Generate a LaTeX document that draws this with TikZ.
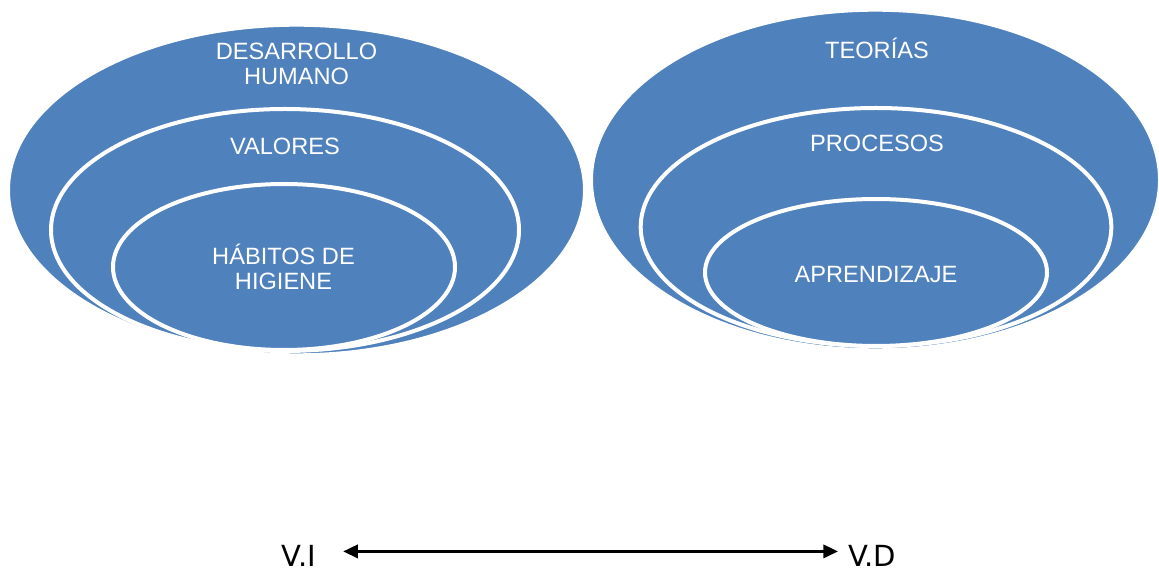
\documentclass[tikz,border=0pt]{standalone}
\usepackage{fontspec}
\setmainfont{Liberation Sans}
\newfontfamily\varfont{DejaVu Sans}
\usetikzlibrary{arrows.meta}
\definecolor{vennblue}{RGB}{79,129,189}
\begin{document}
\begin{tikzpicture}[x=0.75pt,y=-0.75pt,
  ring/.style={fill=vennblue, draw=white, line width=3pt},
  lbl/.style={text=white, font=\fontsize{17.7pt}{18.75pt}\selectfont, align=center, inner sep=0pt, anchor=base},
  vlbl/.style={text=black, font=\varfont\fontsize{21.8pt}{26pt}\selectfont, inner sep=0pt, anchor=base},
  arr/.style={{Triangle[length=11pt,width=10pt]}-{Triangle[length=11pt,width=10pt]}, line width=1.9pt, black}]
\useasboundingbox (0,0) rectangle (1159,573);
% left stacked venn
\draw[ring] (296.5,190) ellipse [x radius=288.5, y radius=165.3];
\draw[ring] (285,230) ellipse [x radius=234, y radius=121];
\draw[ring] (284,267) ellipse [x radius=171, y radius=83];
% right stacked venn
\draw[ring] (875.5,180) ellipse [x radius=284.5, y radius=170.3];
\draw[ring] (876,227) ellipse [x radius=235.3, y radius=119];
\draw[ring] (876,272.5) ellipse [x radius=171, y radius=73.5];
% labels
\node[lbl] (dh) at (296.5,85) {DESARROLLO\\HUMANO};
\node[lbl] (val) at (285,155) {VALORES};
\node[lbl] (hab) at (283.5,290) {HÁBITOS DE\\HIGIENE};
\node[lbl] (teo) at (877,59) {TEORÍAS};
\node[lbl] (pro) at (877,152) {PROCESOS};
\node[lbl] (apr) at (876,283) {APRENDIZAJE};
% variables
\node[vlbl, anchor=base west] (vi) at (281.7,566) {V.I};
\node[vlbl, anchor=base west] (vd) at (848,566) {V.D};
\draw[arr] ([xshift=20.25pt,yshift=3pt]vi.east) -- ([xshift=-7.5pt,yshift=3pt]vd.west);
\end{tikzpicture}
\end{document}
